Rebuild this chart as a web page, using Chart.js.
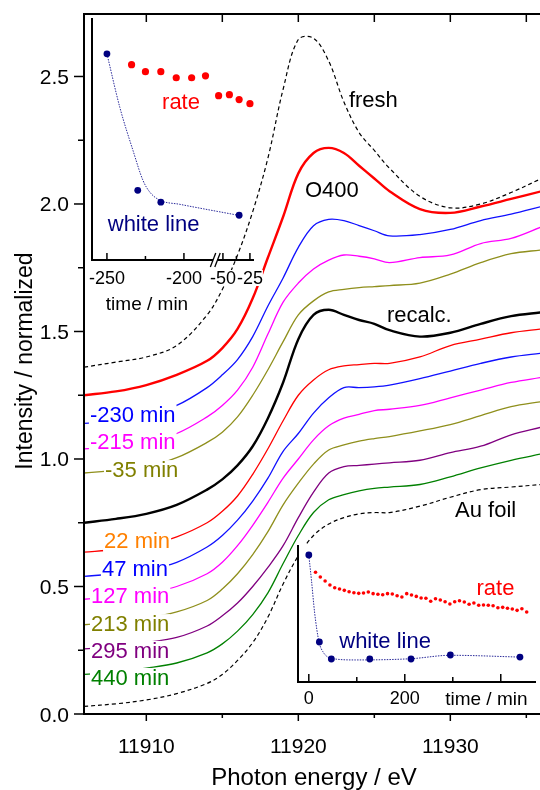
<!DOCTYPE html>
<html>
<head>
<meta charset="utf-8">
<script src="https://cdn.jsdelivr.net/npm/chart.js@4.4.0/dist/chart.umd.min.js"></script>
<style>
  html, body { margin: 0; padding: 0; background: #fff; }
  #wrap { position: relative; width: 540px; height: 790px; }
  canvas { position: absolute; }
</style>
</head>
<body>
<div id="wrap">
  <canvas id="main" width="540" height="790" style="left:0;top:0"></canvas>
  <canvas id="inset1" width="184" height="310" style="left:84px;top:14px"></canvas>
  <canvas id="inset2" width="250" height="180" style="left:290px;top:535px"></canvas>
</div>
<script>
// ---- main spectra (photon energy / eV, normalized intensity) ----
const energy = [11905.9, 11908, 11910, 11912, 11914, 11915, 11916, 11917, 11918, 11919, 11920,
                11921, 11922, 11923, 11924, 11925, 11926, 11928, 11930, 11932, 11934, 11936];
const fresh  = [1.36, 1.38, 1.40, 1.445, 1.565, 1.665, 1.80, 1.97, 2.18, 2.45, 2.645, 2.65, 2.56, 2.40, 2.28, 2.21, 2.14, 2.03, 1.985, 2.00, 2.045, 2.10];
const o400   = [1.25, 1.265, 1.29, 1.33, 1.385, 1.435, 1.51, 1.63, 1.79, 1.95, 2.12, 2.20, 2.22, 2.20, 2.15, 2.10, 2.05, 1.98, 1.965, 1.99, 2.02, 2.05];
const m230   = [1.14, 1.15, 1.17, 1.21, 1.28, 1.33, 1.39, 1.48, 1.60, 1.71, 1.83, 1.915, 1.94, 1.935, 1.915, 1.895, 1.875, 1.88, 1.90, 1.935, 1.96, 1.99];
const m215   = [1.04, 1.05, 1.07, 1.10, 1.165, 1.21, 1.27, 1.36, 1.49, 1.615, 1.69, 1.745, 1.78, 1.80, 1.795, 1.785, 1.77, 1.79, 1.80, 1.845, 1.865, 1.91];
const m35    = [0.945, 0.955, 0.97, 1.005, 1.065, 1.105, 1.165, 1.25, 1.35, 1.46, 1.565, 1.62, 1.655, 1.665, 1.672, 1.676, 1.68, 1.69, 1.725, 1.77, 1.805, 1.82];
const recalc = [0.75, 0.765, 0.785, 0.82, 0.88, 0.92, 0.975, 1.05, 1.16, 1.30, 1.47, 1.565, 1.585, 1.565, 1.545, 1.53, 1.505, 1.48, 1.495, 1.53, 1.56, 1.575];
const t22    = [0.635, 0.645, 0.665, 0.695, 0.75, 0.795, 0.855, 0.94, 1.04, 1.15, 1.25, 1.31, 1.35, 1.365, 1.37, 1.375, 1.375, 1.40, 1.445, 1.47, 1.495, 1.51];
const t47    = [0.54, 0.55, 0.565, 0.595, 0.655, 0.70, 0.76, 0.835, 0.925, 1.03, 1.10, 1.18, 1.24, 1.28, 1.28, 1.283, 1.29, 1.315, 1.345, 1.375, 1.40, 1.415];
const t127   = [0.45, 0.46, 0.475, 0.50, 0.55, 0.595, 0.66, 0.74, 0.83, 0.925, 1.00, 1.075, 1.13, 1.16, 1.175, 1.19, 1.195, 1.21, 1.24, 1.27, 1.30, 1.32];
const t213   = [0.35, 0.36, 0.375, 0.40, 0.445, 0.49, 0.55, 0.625, 0.715, 0.82, 0.905, 0.98, 1.035, 1.055, 1.07, 1.08, 1.088, 1.11, 1.135, 1.17, 1.205, 1.225];
const t295   = [0.255, 0.265, 0.28, 0.30, 0.345, 0.385, 0.435, 0.50, 0.575, 0.66, 0.77, 0.87, 0.945, 0.97, 0.975, 0.98, 0.985, 0.995, 1.025, 1.05, 1.095, 1.125];
const t440   = [0.155, 0.165, 0.18, 0.20, 0.24, 0.275, 0.325, 0.39, 0.475, 0.59, 0.70, 0.79, 0.84, 0.86, 0.875, 0.885, 0.89, 0.90, 0.93, 0.965, 0.995, 1.02];
const auFoil = [0.03, 0.04, 0.055, 0.08, 0.12, 0.155, 0.21, 0.28, 0.38, 0.51, 0.62, 0.70, 0.745, 0.77, 0.785, 0.79, 0.79, 0.815, 0.85, 0.88, 0.89, 0.90];

const xTicks = [11910, 11915, 11920, 11925, 11930, 11935];
const xTickLabels = ['11910', '', '11920', '', '11930', ''];
const yTicks = [0, 0.25, 0.5, 0.75, 1.0, 1.25, 1.5, 1.75, 2.0, 2.25, 2.5];
const yTickLabels = ['0.0', '', '0.5', '', '1.0', '', '1.5', '', '2.0', '', '2.5'];

// ---- inset 1: before reaction (time axis with a break) ----
const wlTime1 = [-250, -230, -215, -35];
const wlVal1 = [8.52, 2.88, 2.39, 1.85];
const wlFitTime1 = [-250, -241.6, -233.1, -226.6, -222.1, -215.6, -202.6, -36];
const wlFitVal1 = [8.52, 6.30, 4.53, 3.29, 2.80, 2.47, 2.30, 1.85];
const rateTime1 = [-234, -225, -215, -205, -195, -186, -54, -44, -35, -25];
const rateVal1 = [8.07, 7.78, 7.78, 7.53, 7.53, 7.61, 6.79, 6.83, 6.63, 6.46];
const inset1Ticks = [-250, -225, -200, -50, -37.5, -25];
const inset1TickLabels = ['-250', '', '-200', '-50', '', '-25'];

// ---- inset 2: during reaction ----
const wlTime2 = [0, 22, 47, 127, 213, 295, 440];
const wlVal2 = [9.27, 2.92, 1.68, 1.68, 1.68, 1.97, 1.82];
const wlFitTime2 = [0, 5.5, 12.3, 21.2, 29.4, 46.4, 97.7, 213, 295, 440];
const wlFitVal2 = [9.27, 7.45, 5.01, 2.94, 2.21, 1.73, 1.61, 1.70, 1.95, 1.82];
const rateTime2 = [14, 24, 34, 44, 54, 64, 74, 84, 94, 104, 114, 124, 134, 144, 154, 164, 174, 184, 194, 204, 214, 224,
                   234, 244, 254, 264, 274, 284, 294, 304, 314, 324, 334, 344, 354, 364, 374, 384, 394, 404, 414, 424, 434, 444, 454];
const rateVal2 = [8.01, 7.66, 7.37, 7.08, 6.88, 6.79, 6.69, 6.59, 6.52, 6.47, 6.50, 6.57, 6.45, 6.40, 6.37, 6.45, 6.42, 6.30, 6.20, 6.45, 6.35, 6.25,
                  6.13, 6.11, 5.89, 6.08, 5.99, 5.86, 5.69, 5.86, 5.93, 5.84, 5.67, 5.77, 5.60, 5.62, 5.60, 5.57, 5.42, 5.45, 5.38, 5.33, 5.23, 5.35, 5.11];
const inset2Ticks = [0, 100, 200, 300, 400];
const inset2TickLabels = ['0', '', '200', '', ''];

const FONT = '"Liberation Sans", Arial, Helvetica, sans-serif';
const NAVY = '#000080';

function line(ctx, x1, y1, x2, y2) {
  ctx.beginPath();
  ctx.moveTo(x1, y1);
  ctx.lineTo(x2, y2);
  ctx.stroke();
}

// ---------------- main chart ----------------
const curves = [
  { values: fresh,  color: '#000000', width: 1.2, dash: [4, 3] },
  { values: o400,   color: '#ff0000', width: 2.4 },
  { values: m230,   color: '#1010ff', width: 1.3 },
  { values: m215,   color: '#ff00ff', width: 1.3 },
  { values: m35,    color: '#8f8f1c', width: 1.3 },
  { values: recalc, color: '#000000', width: 2.4 },
  { values: t22,    color: '#ff0000', width: 1.3 },
  { values: t47,    color: '#1010ff', width: 1.3 },
  { values: t127,   color: '#ff00ff', width: 1.3 },
  { values: t213,   color: '#8f8f1c', width: 1.3 },
  { values: t295,   color: '#800080', width: 1.3 },
  { values: t440,   color: '#008000', width: 1.3 },
  { values: auFoil, color: '#000000', width: 1.2, dash: [4, 3] }
];

// curve labels, anchored in data coordinates (left edge, baseline)
const curveLabels = [
  { text: 'fresh',    e: 11923.33, y: 2.380, color: '#000000' },
  { text: 'O400',     e: 11920.44, y: 2.027, color: '#000000' },
  { text: 'recalc.',  e: 11925.83, y: 1.537, color: '#000000' },
  { text: 'Au foil',  e: 11930.31, y: 0.773, color: '#000000' },
  { text: '-230 min', e: 11906.29, y: 1.146, color: '#0000ff', box: true },
  { text: '-215 min', e: 11906.29, y: 1.039, color: '#ff00ff', box: true },
  { text: '-35 min',  e: 11907.28, y: 0.929, color: '#808000', box: true },
  { text: '22 min',   e: 11907.22, y: 0.651, color: '#ff8000', box: true },
  { text: '47 min',   e: 11907.08, y: 0.541, color: '#0000ff', box: true },
  { text: '127 min',  e: 11906.36, y: 0.435, color: '#ff00ff', box: true },
  { text: '213 min',  e: 11906.36, y: 0.325, color: '#808000', box: true },
  { text: '295 min',  e: 11906.36, y: 0.220, color: '#800080', box: true },
  { text: '440 min',  e: 11906.36, y: 0.114, color: '#008000', box: true }
];

const mainDecor = {
  id: 'mainDecor',
  afterDatasetsDraw(chart) {
    const { ctx, scales: { x, y } } = chart;
    ctx.save();
    ctx.font = '22px ' + FONT;
    ctx.textAlign = 'left';
    ctx.textBaseline = 'alphabetic';
    curveLabels.forEach(l => {
      const px = x.getPixelForValue(l.e);
      const py = y.getPixelForValue(l.y);
      const w = ctx.measureText(l.text).width;
      if (l.box) {
        ctx.fillStyle = '#fff';
        ctx.fillRect(px - 1, py - 17, w + 2, 21);
      }
      ctx.fillStyle = l.color;
      ctx.fillText(l.text, px, py);
    });
    ctx.restore();
  },
  afterDraw(chart) {
    const { ctx, chartArea: a, scales: { x, y } } = chart;
    ctx.save();
    ctx.strokeStyle = '#000';
    ctx.lineWidth = 2;
    line(ctx, a.left, a.top - 1, a.left, a.bottom + 1);
    line(ctx, a.left, a.bottom, a.right, a.bottom);
    line(ctx, a.left, a.top, a.right, a.top);
    ctx.lineWidth = 1.5;
    xTicks.forEach((v, i) => {
      const px = x.getPixelForValue(v);
      line(ctx, px, a.bottom, px, a.bottom + (xTickLabels[i] ? 7 : 4));
      line(ctx, px, a.top, px, a.top + 8);
    });
    yTicks.forEach((v, i) => {
      const py = y.getPixelForValue(v);
      line(ctx, a.left - (yTickLabels[i] ? 10 : 6), py, a.left, py);
    });
    ctx.fillStyle = '#000';
    ctx.font = '21px ' + FONT;
    ctx.textBaseline = 'alphabetic';
    ctx.textAlign = 'center';
    xTicks.forEach((v, i) => {
      if (xTickLabels[i]) ctx.fillText(xTickLabels[i], x.getPixelForValue(v), a.bottom + 39);
    });
    ctx.textAlign = 'right';
    yTicks.forEach((v, i) => {
      if (yTickLabels[i]) ctx.fillText(yTickLabels[i], a.left - 15, y.getPixelForValue(v) + 7.5);
    });
    ctx.textAlign = 'center';
    ctx.font = '24px ' + FONT;
    ctx.fillText('Photon energy / eV', 314, 785);
    ctx.translate(32, 361);
    ctx.rotate(-Math.PI / 2);
    ctx.font = '23px ' + FONT;
    ctx.fillText('Intensity / normalized', 0, 0);
    ctx.restore();
  }
};

new Chart(document.getElementById('main'), {
  type: 'scatter',
  data: {
    datasets: curves.map(c => ({
      data: energy.map((e, i) => ({ x: e, y: c.values[i] })),
      showLine: true,
      borderColor: c.color,
      borderWidth: c.width,
      borderDash: c.dash || [],
      pointRadius: 0,
      fill: false,
      tension: 0.35
    }))
  },
  options: {
    responsive: false,
    animation: false,
    layout: { padding: { top: 14, left: 0, right: 0, bottom: 0 } },
    plugins: { legend: { display: false }, tooltip: { enabled: false } },
    scales: {
      x: {
        type: 'linear', min: 11905.9, max: 11935.9,
        afterFit: s => { s.height = 76; },
        grid: { display: false, drawTicks: false },
        border: { display: false },
        ticks: { display: false }
      },
      y: {
        min: 0, max: 2.745,
        afterFit: s => { s.width = 84; },
        grid: { display: false, drawTicks: false },
        border: { display: false },
        ticks: { display: false }
      }
    }
  },
  plugins: [mainDecor]
});

// ---------------- inset 1 (broken time axis) ----------------
function brk(t) {
  return t <= -100 ? t : -174.68 + (t + 50) * 0.7013;
}
const breakGap = [-181.1, -178.2];

const inset1Decor = {
  id: 'inset1Decor',
  afterDraw(chart) {
    const { ctx, chartArea: a, scales: { x, y } } = chart;
    ctx.save();
    ctx.strokeStyle = '#000';
    ctx.lineWidth = 2;
    const g1 = x.getPixelForValue(breakGap[0]);
    const g2 = x.getPixelForValue(breakGap[1]);
    line(ctx, a.left, a.top, a.left, a.bottom + 1);
    line(ctx, a.left, a.bottom, g1, a.bottom);
    line(ctx, g2, a.bottom, a.right, a.bottom);
    ctx.lineWidth = 1.3;
    line(ctx, g1 - 2.7, a.bottom + 7, g1 + 2.7, a.bottom - 7);
    line(ctx, g2 - 2.7, a.bottom + 7, g2 + 2.7, a.bottom - 7);
    ctx.lineWidth = 1.5;
    inset1Ticks.forEach((t, i) => {
      const px = x.getPixelForValue(brk(t));
      line(ctx, px, a.bottom, px, a.bottom - (inset1TickLabels[i] ? 7 : 4));
    });
    ctx.fillStyle = '#000';
    ctx.font = '18px ' + FONT;
    ctx.textAlign = 'center';
    ctx.textBaseline = 'alphabetic';
    inset1Ticks.forEach((t, i) => {
      if (!inset1TickLabels[i]) return;
      const px = x.getPixelForValue(brk(t));
      const w = ctx.measureText(inset1TickLabels[i]).width;
      ctx.fillStyle = '#fff';
      ctx.fillRect(px - w / 2, a.bottom + 10, w, 16);
      ctx.fillStyle = '#000';
      ctx.fillText(inset1TickLabels[i], px, a.bottom + 24);
    });
    ctx.font = '19px ' + FONT;
    ctx.fillText('time / min', a.left + 55, a.bottom + 50);
    ctx.font = '22px ' + FONT;
    ctx.fillStyle = '#ff0000';
    ctx.fillText('rate', x.getPixelForValue(-201.9), y.getPixelForValue(6.24));
    ctx.fillStyle = NAVY;
    ctx.fillText('white line', x.getPixelForValue(-219.7), y.getPixelForValue(1.19));
    ctx.restore();
  }
};

new Chart(document.getElementById('inset1'), {
  type: 'scatter',
  data: {
    datasets: [
      {
        data: wlTime1.map((t, i) => ({ x: brk(t), y: wlVal1[i] })),
        pointRadius: 3.4, pointBackgroundColor: NAVY, pointBorderWidth: 0
      },
      {
        data: rateTime1.map((t, i) => ({ x: brk(t), y: rateVal1[i] })),
        pointRadius: 3.6, pointBackgroundColor: '#ff0000', pointBorderWidth: 0
      },
      {
        data: wlFitTime1.map((t, i) => ({ x: brk(t), y: wlFitVal1[i] })),
        showLine: true, pointRadius: 0, borderColor: '#2a2a9a', borderWidth: 1,
        borderDash: [1.5, 1.2], cubicInterpolationMode: 'monotone'
      }
    ]
  },
  options: {
    responsive: false,
    animation: false,
    layout: { padding: { left: 8, top: 3, right: 14, bottom: 64 } },
    plugins: { legend: { display: false }, tooltip: { enabled: false } },
    scales: {
      x: { type: 'linear', min: -259.7, max: -154.5, display: false },
      y: { min: 0, max: 10, display: false }
    }
  },
  plugins: [inset1Decor]
});

// ---------------- inset 2 ----------------
const inset2Decor = {
  id: 'inset2Decor',
  beforeDraw(chart) {
    const { ctx, chartArea: a } = chart;
    ctx.save();
    ctx.fillStyle = '#fff';
    ctx.fillRect(a.left, a.top, a.right - a.left, a.bottom - a.top);
    ctx.restore();
  },
  afterDraw(chart) {
    const { ctx, chartArea: a, scales: { x, y } } = chart;
    ctx.save();
    ctx.strokeStyle = '#000';
    ctx.lineWidth = 2;
    line(ctx, a.left, a.top, a.left, a.bottom + 1);
    line(ctx, a.left, a.bottom, a.right, a.bottom);
    ctx.lineWidth = 1.5;
    inset2Ticks.forEach((t, i) => {
      const px = x.getPixelForValue(t);
      line(ctx, px, a.bottom, px, a.bottom - (i % 2 === 0 ? 8 : 5));
    });
    ctx.fillStyle = '#000';
    ctx.font = '18px ' + FONT;
    ctx.textAlign = 'center';
    ctx.textBaseline = 'alphabetic';
    inset2Ticks.forEach((t, i) => {
      if (inset2TickLabels[i]) ctx.fillText(inset2TickLabels[i], x.getPixelForValue(t), a.bottom + 22);
    });
    ctx.font = '19px ' + FONT;
    ctx.fillText('time / min', x.getPixelForValue(370), a.bottom + 23);
    ctx.font = '22px ' + FONT;
    ctx.fillStyle = '#ff0000';
    ctx.fillText('rate', x.getPixelForValue(389), y.getPixelForValue(6.35));
    ctx.fillStyle = NAVY;
    ctx.fillText('white line', x.getPixelForValue(159), y.getPixelForValue(2.46));
    ctx.restore();
  }
};

new Chart(document.getElementById('inset2'), {
  type: 'scatter',
  data: {
    datasets: [
      {
        data: wlTime2.map((t, i) => ({ x: t, y: wlVal2[i] })),
        pointRadius: 3.4, pointBackgroundColor: NAVY, pointBorderWidth: 0
      },
      {
        data: rateTime2.map((t, i) => ({ x: t, y: rateVal2[i] })),
        pointRadius: 1.8, pointBackgroundColor: '#ff0000', pointBorderWidth: 0
      },
      {
        data: wlFitTime2.map((t, i) => ({ x: t, y: wlFitVal2[i] })),
        showLine: true, pointRadius: 0, borderColor: '#2a2a9a', borderWidth: 1,
        borderDash: [1.5, 1.2], cubicInterpolationMode: 'monotone'
      }
    ]
  },
  options: {
    responsive: false,
    animation: false,
    layout: { padding: { left: 8, top: 10, right: 0, bottom: 33 } },
    plugins: { legend: { display: false }, tooltip: { enabled: false } },
    scales: {
      x: { type: 'linear', min: -22.5, max: 473.4, display: false },
      y: { min: 0, max: 10, display: false }
    }
  },
  plugins: [inset2Decor]
});
</script>
</body>
</html>
